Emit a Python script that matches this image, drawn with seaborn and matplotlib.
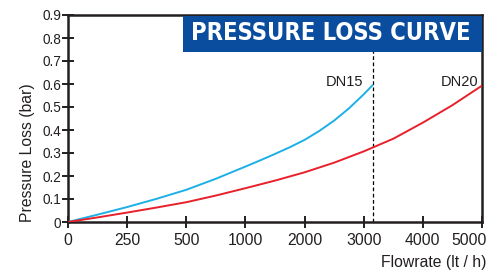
"""
Pressure loss curve for DN15 / DN20 valves
"""
import matplotlib
matplotlib.use("Agg")
import matplotlib.pyplot as plt
import matplotlib.transforms as mtransforms
import seaborn as sns
import numpy as np
import pandas as pd
from matplotlib.patches import Rectangle

# Flowrate tick values (axis is piecewise linear: ticks are evenly spaced)
flow_ticks = [0, 250, 500, 1000, 2000, 3000, 4000, 5000]
y_ticks = [0, 0.1, 0.2, 0.3, 0.4, 0.5, 0.6, 0.7, 0.8, 0.9]
y_tick_labels = ['0', '0.1', '0.2', '0.3', '0.4', '0.5', '0.6', '0.7', '0.8', '0.9']

# DN15 curve
dn15_flow = [0, 125, 250, 375, 500, 750, 1000, 1250, 1500, 1750, 2000,
             2250, 2500, 2750, 3000, 3150]
dn15_loss = [0, 0.032, 0.065, 0.101, 0.14, 0.188, 0.241, 0.268, 0.296, 0.325, 0.357,
             0.396, 0.441, 0.494, 0.555, 0.595]

# DN20 curve
dn20_flow = [0, 125, 250, 375, 500, 750, 1000, 1500, 2000, 2500, 3000,
             3500, 4000, 4500, 5000]
dn20_loss = [0, 0.02, 0.041, 0.063, 0.086, 0.115, 0.147, 0.18, 0.216, 0.258, 0.307,
             0.362, 0.432, 0.508, 0.593]

limit_flow = 3150
title_text = 'PRESSURE LOSS CURVE'

BLUE = '#1cb0e6'
RED = '#e8202a'
BANNER = '#0a4d9e'
INK = '#231f20'

sns.set_style("ticks")
plt.rcParams['font.family'] = ['Liberation Sans', 'DejaVu Sans']

fig = plt.figure(figsize=(4.97, 2.74), dpi=100)
ax = fig.add_axes([68 / 497, (274 - 222) / 274, (482 - 68) / 497, (222 - 15) / 274])

positions = np.arange(len(flow_ticks))


def fwd(x):
    return np.interp(x, flow_ticks, positions)


def inv(p):
    return np.interp(p, positions, flow_ticks)


ax.set_xscale('function', functions=(fwd, inv))

df15 = pd.DataFrame({'flow': dn15_flow, 'loss': dn15_loss})
df20 = pd.DataFrame({'flow': dn20_flow, 'loss': dn20_loss})
sns.lineplot(data=df15, x='flow', y='loss', color=BLUE, linewidth=1.4, ax=ax, zorder=3)
sns.lineplot(data=df20, x='flow', y='loss', color=RED, linewidth=1.4, ax=ax, zorder=3)

ax.axvline(limit_flow, color='black', linestyle=(0, (3, 2)), linewidth=0.9, zorder=2)

ax.set_xlim(0, 5000)
ax.set_ylim(0, 0.9)
ax.set_xticks(flow_ticks)
ax.set_xticklabels([str(v) for v in flow_ticks])
ax.set_yticks(y_ticks)
ax.set_yticklabels(y_tick_labels)
ax.tick_params(direction='inout', length=8, width=1.4, color=INK, labelcolor=INK)
ax.tick_params(axis='x', pad=4, labelsize=11.3)
ax.tick_params(axis='y', pad=1, labelsize=9.8)

# last x label sits left of its tick so it stays inside the picture
last = ax.get_xticklabels()[-1]
last.set_ha('right')
last.set_transform(last.get_transform()
                   + mtransforms.ScaledTranslation(5 / 100, 0, fig.dpi_scale_trans))

for side in ['left', 'bottom', 'top', 'right']:
    ax.spines[side].set_color(INK)
    ax.spines[side].set_linewidth(1.8)

ax.set_xlabel('')
ax.set_ylabel('')
fig.text(28 / 497, 1 - 153 / 274, 'Pressure Loss (bar)', rotation=90, ha='center',
         va='center', fontsize=11.3, color=INK)
fig.text(486 / 497, 1 - 263 / 274, 'Flowrate (lt / h)', ha='right', va='center',
         fontsize=11.3, color=INK)

# curve labels
ax.text(2990, 0.59, 'DN15', ha='right', va='baseline', fontsize=10.5, color=INK)
ax.text(4932, 0.59, 'DN20', ha='right', va='baseline', fontsize=10.5, color=INK)

# title banner
bx0 = (183 - 68) / 414
by0 = (222 - 52) / 207
ax.add_patch(Rectangle((bx0, by0), 1 - bx0, 1 - by0 - 0.004, transform=ax.transAxes,
                       facecolor=BANNER, edgecolor='none', zorder=5, clip_on=False))
ax.text((bx0 + 1) / 2 - 0.005, (by0 + 1) / 2, title_text, transform=ax.transAxes,
        ha='center', va='center', fontsize=17, fontweight='bold', color='white',
        family=['DejaVu Sans'], fontstretch='condensed', zorder=6)

fig.savefig('out.png', dpi=100)
